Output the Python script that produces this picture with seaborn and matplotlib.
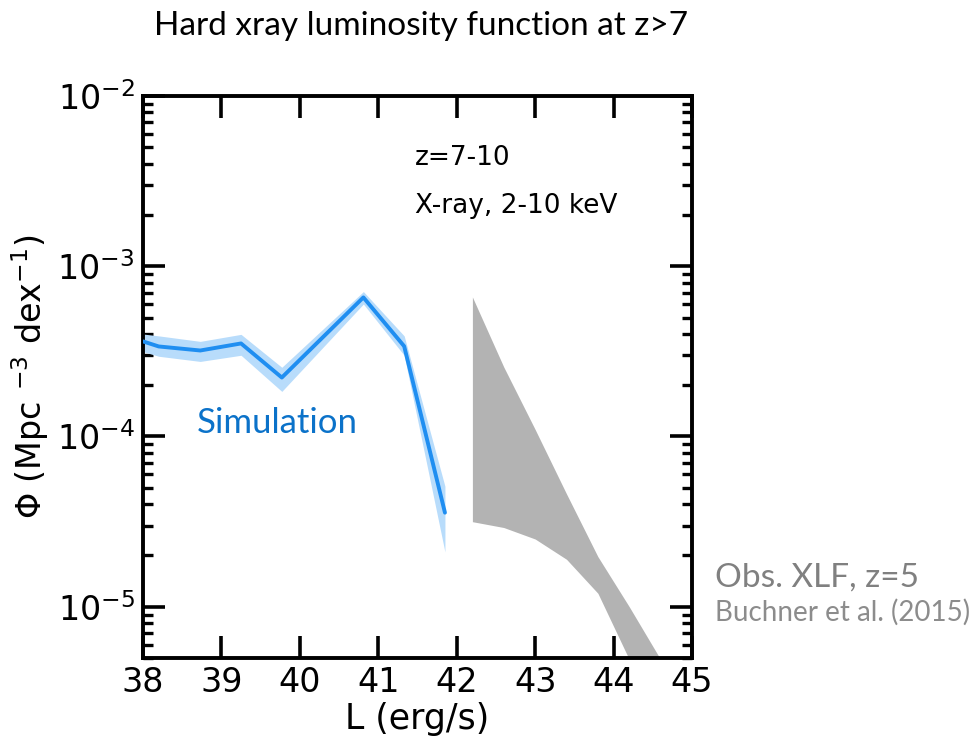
import numpy as np
import pandas as pd
import matplotlib
matplotlib.use("Agg")
import matplotlib.pyplot as plt
import seaborn as sns
from matplotlib.ticker import LogLocator, FixedLocator

# ---- data ----
sim_logL = [38.0, 38.2, 38.73, 39.25, 39.77, 40.81, 41.33, 41.85]
sim_phi = [3.62e-4, 3.38e-4, 3.2e-4, 3.52e-4, 2.22e-4, 6.56e-4, 3.39e-4, 3.57e-5]
sim_hi = [4.0e-4, 3.9e-4, 3.62e-4, 3.98e-4, 2.55e-4, 7.1e-4, 3.9e-4, 5.1e-5]
sim_lo = [3.15e-4, 2.96e-4, 2.76e-4, 3.0e-4, 1.84e-4, 6.0e-4, 3.0e-4, 2.1e-5]

obs_logL = [42.2, 42.6, 43.0, 43.4, 43.8, 44.2, 44.6]
obs_hi = [6.6e-4, 2.56e-4, 1.1e-4, 4.6e-5, 1.97e-5, 1.0e-5, 4.9e-6]
obs_lo = [3.16e-5, 2.92e-5, 2.5e-5, 1.9e-5, 1.2e-5, 4.9e-6, 2.0e-6]

x_ticks = [38, 39, 40, 41, 42, 43, 44, 45]

sim_df = pd.DataFrame({"L": sim_logL, "phi": sim_phi})

sns.set_style("ticks")
plt.rcParams["font.family"] = ["DejaVu Sans"]
plt.rcParams["text.color"] = "black"
plt.rcParams["axes.labelcolor"] = "black"
plt.rcParams["xtick.color"] = "black"
plt.rcParams["ytick.color"] = "black"
plt.rcParams["axes.edgecolor"] = "black"

fig = plt.figure(figsize=(9.74, 7.45), dpi=100)
ax = fig.add_axes([143 / 974, 1 - 658 / 745, (692 - 143) / 974, (658 - 96) / 745])

ax.fill_between(obs_logL, obs_lo, obs_hi, color="#b3b3b3", linewidth=0, zorder=1)
ax.fill_between(sim_logL, sim_lo, sim_hi, color="#b8dcfb", linewidth=0, zorder=2)
sns.lineplot(data=sim_df, x="L", y="phi", ax=ax, color="#1f8ef1", linewidth=2.8, zorder=3)

ax.set_yscale("log")
ax.set_xlim(38, 45)
ax.set_ylim(5e-6, 1e-2)
ax.xaxis.set_major_locator(FixedLocator(x_ticks))
ax.yaxis.set_major_locator(LogLocator(base=10, numticks=10))
ax.yaxis.set_minor_locator(LogLocator(base=10, subs=np.arange(2, 10), numticks=20))

for s in ax.spines.values():
    s.set_linewidth(2.8)
    s.set_visible(True)
    s.set_color("black")
ax.tick_params(which="major", direction="in", length=16, width=2.6, top=True, right=True,
               labelsize=24, pad=6, colors="black")
ax.tick_params(which="minor", direction="in", length=7, width=2.4, top=True, right=True,
               colors="black")
ax.tick_params(axis="x", which="minor", top=False, bottom=False)

ax.set_xlabel("L (erg/s)", fontsize=25, labelpad=2, color="black")
ax.set_ylabel(r"$\Phi$ (Mpc $^{-3}$ dex$^{-1}$)", fontsize=24, labelpad=4, color="black")

fig.text(415 / 974, 1 - 158 / 745, "z=7-10", fontsize=19, va="center", ha="left",
         color="black")
fig.text(415 / 974, 1 - 206 / 745, "X-ray, 2-10 keV", fontsize=19, va="center", ha="left",
         color="black")
fig.text(197 / 974, 1 - 423 / 745, "Simulation", fontsize=25, color="#0b72c9",
         family="Lato", va="center", ha="left")
fig.text(421 / 974, 1 - 26 / 745, "Hard xray luminosity function at z>7", fontsize=24,
         family="Lato", va="center", ha="center", color="black")
fig.text(715 / 974, 1 - 578 / 745, "Obs. XLF, z=5", fontsize=24, color="#808080",
         family="Lato", va="center", ha="left")
fig.text(715 / 974, 1 - 612 / 745, "Buchner et al. (2015)", fontsize=20, color="#8c8c8c",
         family="Lato", va="center", ha="left")

fig.savefig("out.png", dpi=100)
